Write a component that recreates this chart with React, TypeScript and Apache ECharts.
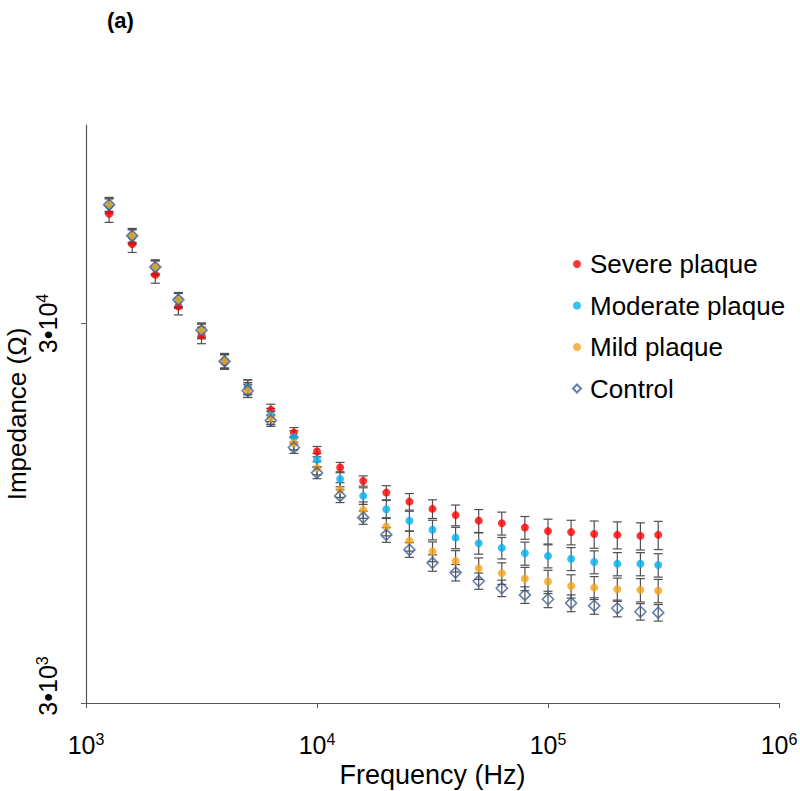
import { useEffect, useRef } from 'react';
import * as echarts from 'echarts';

const frequencies = [1259, 1585, 1995, 2512, 3162, 3981, 5012, 6310, 7943, 10000, 12589, 15849, 19953, 25119, 31623, 39811, 50119, 63096, 79433, 100000, 125893, 158489, 199526, 251189, 300000];

const severe = [58310, 48580, 40320, 33250, 27930, 23770, 20430, 17760, 15470, 13790, 12520, 11540, 10750, 10180, 9740, 9380, 9070, 8930, 8700, 8510, 8460, 8360, 8320, 8270, 8320];
const severeErr = [2920, 2430, 2020, 1660, 1400, 1070, 880, 620, 480, 430, 390, 360, 460, 510, 550, 590, 630, 620, 600, 640, 630, 690, 680, 680, 710];

const moderate = [61100, 50630, 41940, 34430, 28610, 23920, 20370, 17230, 15050, 13110, 11670, 10540, 9720, 9060, 8580, 8180, 7910, 7690, 7440, 7320, 7200, 7060, 6980, 6980, 6930];
const moderateErr = [2750, 2280, 1890, 1550, 1290, 1080, 920, 690, 600, 520, 530, 530, 530, 540, 510, 530, 510, 500, 520, 510, 500, 490, 490, 490, 490];

const mild = [61670, 51090, 42250, 34640, 28790, 23920, 20060, 16920, 14510, 12470, 10930, 9680, 8750, 8020, 7520, 7100, 6790, 6590, 6380, 6270, 6100, 6040, 5980, 5960, 5930];
const mildErr = [2780, 2300, 1900, 1560, 1300, 1080, 900, 680, 580, 500, 490, 480, 480, 480, 450, 460, 440, 430, 450, 440, 430, 420, 420, 420, 420];

const control = [61670, 51090, 42250, 34640, 28790, 23850, 19940, 16650, 14130, 12120, 10540, 9240, 8320, 7600, 7020, 6620, 6290, 6020, 5780, 5630, 5500, 5410, 5330, 5220, 5190];
const controlErr = [2470, 2040, 1690, 1390, 1150, 950, 800, 580, 490, 420, 420, 370, 370, 340, 350, 330, 310, 300, 290, 280, 280, 270, 270, 260, 260];

const seriesNames = ['Severe plaque', 'Moderate plaque', 'Mild plaque', 'Control'];
const xTicks = [1000, 10000, 100000, 1000000];
const yTicks = [3000, 30000];
const yMin = 3000;
const yMax = 100000;

const FONT = '"Liberation Sans", Arial, sans-serif';
const AXIS_COLOR = '#595959';
const ERR_COLOR = '#505050';

function errorSeries(name: string, values: number[], errs: number[]) {
  return {
    type: 'custom',
    name: name + ' error',
    silent: true,
    z: 1,
    encode: { x: 0, y: [1, 2] },
    data: frequencies.map((f, i) => [f, values[i] - errs[i], values[i] + errs[i]]),
    renderItem: (_params: any, api: any) => {
      const x = api.value(0);
      const lo = api.coord([x, api.value(1)]);
      const hi = api.coord([x, api.value(2)]);
      const w = 4.5;
      const style = { stroke: ERR_COLOR, lineWidth: 1.2 };
      return {
        type: 'group',
        children: [
          { type: 'line', shape: { x1: lo[0], y1: lo[1], x2: hi[0], y2: hi[1] }, style },
          { type: 'line', shape: { x1: hi[0] - w, y1: hi[1], x2: hi[0] + w, y2: hi[1] }, style },
          { type: 'line', shape: { x1: lo[0] - w, y1: lo[1], x2: lo[0] + w, y2: lo[1] }, style },
        ],
      };
    },
  };
}

export default function App() {
  const ref = useRef<HTMLDivElement>(null);
  useEffect(() => {
    if (!ref.current) return;
    const chart = echarts.init(ref.current, undefined, { renderer: 'svg' });
    const rich = {
      b: { fontSize: 25, lineHeight: 28, fontFamily: FONT, color: '#000' },
      s: { fontSize: 16, lineHeight: 16, verticalAlign: 'top', fontFamily: FONT, color: '#000' },
      p: { width: 34, lineHeight: 28 },
    };
    chart.setOption({
      animation: false,
      backgroundColor: '#fff',
      textStyle: { fontFamily: FONT },
      title: {
        text: '(a)',
        left: 102,
        top: 4,
        textStyle: { fontSize: 22, fontWeight: 'bold', color: '#000', fontFamily: FONT },
      },
      grid: { left: 86, right: 21, top: 125, bottom: 88, containLabel: false, outerBoundsMode: 'none' },
      legend: {
        orient: 'vertical',
        left: 567,
        top: 246,
        itemWidth: 8,
        itemHeight: 8,
        itemGap: 15.5,
        textStyle: { fontSize: 26, color: '#000', fontFamily: FONT, padding: [0, 0, 0, 4] },
        data: [
          { name: seriesNames[0], icon: 'circle' },
          { name: seriesNames[1], icon: 'circle' },
          { name: seriesNames[2], icon: 'circle' },
          { name: seriesNames[3], icon: 'diamond' },
        ],
      },
      xAxis: {
        type: 'log',
        logBase: 10,
        min: xTicks[0],
        max: xTicks[xTicks.length - 1],
        name: 'Frequency (Hz)',
        nameLocation: 'middle',
        nameGap: 58,
        nameMoveOverlap: false,
        nameTextStyle: { fontSize: 27, color: '#000', fontFamily: FONT },
        axisLine: { show: true, lineStyle: { color: AXIS_COLOR, width: 1.2 } },
        axisTick: { show: true, inside: false, length: 5, lineStyle: { color: AXIS_COLOR } },
        minorTick: { show: false },
        splitLine: { show: false },
        axisLabel: {
          margin: 28,
          formatter: (v: number) => `{b|10}{s|${Math.round(Math.log10(v))}}`,
          rich,
        },
      },
      yAxis: {
        type: 'log',
        logBase: 10,
        min: yMin,
        max: yMax,
        name: 'Impedance (Ω)',
        nameLocation: 'middle',
        nameGap: 56,
        nameRotate: 90,
        nameMoveOverlap: false,
        nameTextStyle: { fontSize: 26, color: '#000', fontFamily: FONT },
        axisLine: { show: true, lineStyle: { color: AXIS_COLOR, width: 1.2 } },
        axisTick: { show: true, inside: false, length: 5, lineStyle: { color: AXIS_COLOR }, customValues: yTicks },
        minorTick: { show: false },
        splitLine: { show: false },
        axisLabel: {
          rotate: 90,
          margin: 24,
          customValues: yTicks,
          formatter: (v: number) => {
            const e = Math.floor(Math.log10(v) + 1e-9);
            const m = Math.round(v / Math.pow(10, e));
            const lead = v <= yMin ? '{p|}' : '';
            return `${lead}{b|${m}•10}{s|${e}}`;
          },
          rich,
        },
      },
      series: [
        errorSeries(seriesNames[0], severe, severeErr),
        errorSeries(seriesNames[1], moderate, moderateErr),
        errorSeries(seriesNames[2], mild, mildErr),
        errorSeries(seriesNames[3], control, controlErr),
        {
          type: 'scatter',
          name: seriesNames[0],
          z: 3,
          symbol: 'circle',
          symbolSize: 8,
          itemStyle: { color: '#ff0000' },
          data: frequencies.map((f, i) => [f, severe[i]]),
        },
        {
          type: 'scatter',
          name: seriesNames[1],
          z: 3,
          symbol: 'circle',
          symbolSize: 8,
          itemStyle: { color: '#00b0f0' },
          data: frequencies.map((f, i) => [f, moderate[i]]),
        },
        {
          type: 'scatter',
          name: seriesNames[2],
          z: 3,
          symbol: 'circle',
          symbolSize: 8,
          itemStyle: { color: '#f5a316' },
          data: frequencies.map((f, i) => [f, mild[i]]),
        },
        {
          type: 'scatter',
          name: seriesNames[3],
          z: 4,
          symbol: 'diamond',
          symbolSize: 11,
          itemStyle: { color: 'rgba(255,255,255,0)', borderColor: '#3f5f97', borderWidth: 1.6 },
          data: frequencies.map((f, i) => [f, control[i]]),
        },
      ],
    });
    return () => chart.dispose();
  }, []);
  return <div ref={ref} style={{ position: 'fixed', left: 0, top: 0, width: 800, height: 791 }} />;
}
